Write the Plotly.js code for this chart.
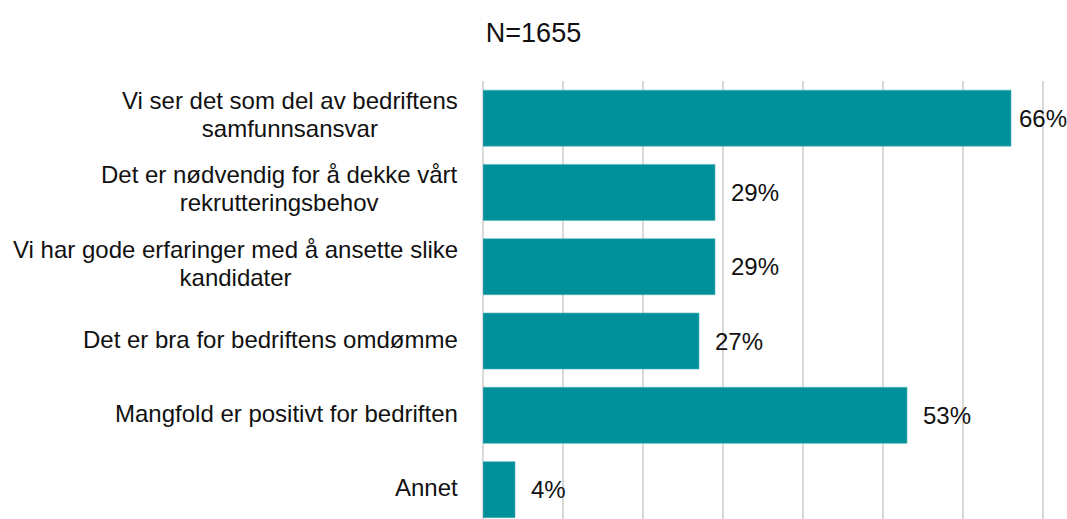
<!DOCTYPE html>
<html>
<head>
<meta charset="utf-8">
<script src="https://cdn.plot.ly/plotly-3.0.1.min.js"></script>
<style>html,body{margin:0;padding:0;background:#fff;}#chart{width:1067px;height:519px;}</style>
</head>
<body>
<div id="chart"></div>
<script>
const categories = [
  "Vi ser det som del av bedriftens<br>samfunnsansvar",
  "Det er nødvendig for å dekke vårt<br>rekrutteringsbehov",
  "Vi har gode erfaringer med å ansette slike<br>kandidater",
  "Det er bra for bedriftens omdømme",
  "Mangfold er positivt for bedriften",
  "Annet"
];
const values = [66, 29, 29, 27, 53, 4];
const valueLabels = ["66%", "29%", "29%", "27%", "53%", "4%"];
const titleText = "N=1655";

const FONT = "Liberation Sans, Arial, Helvetica, sans-serif";
const teal = "#00909a";
const W = 1067, H = 519;
const ML = 483, MR = 8, MT = 81;
const XMAX = 72;
const LINE_EM = 1.17;

const trace = {
  type: "bar",
  orientation: "h",
  x: values,
  y: categories,
  marker: { color: teal, line: { color: "#4fb3b9", width: 0.6 } },
  hoverinfo: "none",
  cliponaxis: false
};

const annotations = [];
const pxPerUnit = (W - ML - MR) / XMAX;

categories.forEach((c, i) => {
  const multi = c.indexOf("<br>") >= 0;
  annotations.push({
    xref: "paper", yref: "y", x: 0, y: c,
    text: c, showarrow: false,
    xanchor: "right", yanchor: "middle", align: "center",
    xshift: -23, yshift: 2,
    font: { family: FONT, size: 24, color: "#111" }
  });
});

values.forEach((v, i) => {
  const barEnd = ML + v * pxPerUnit;
  const labelW = valueLabels[i].length * 15.5;
  let shift = 14;
  if (barEnd + shift + labelW > W - 3) shift = 6;
  annotations.push({
    xref: "x", yref: "y", x: v, y: categories[i],
    text: valueLabels[i], showarrow: false,
    xanchor: "left", yanchor: "middle",
    xshift: shift,
    font: { family: FONT, size: 24, color: "#111" }
  });
});

const layout = {
  width: W, height: H,
  margin: { l: ML, r: MR, t: MT, b: 0, pad: 0 },
  paper_bgcolor: "#fff", plot_bgcolor: "#fff",
  showlegend: false,
  bargap: 0.246,
  title: {
    text: titleText,
    font: { family: FONT, size: 27, color: "#111" },
    xref: "container", x: 0.5, xanchor: "center",
    yref: "container", y: 1 - 33 / 519, yanchor: "middle"
  },
  xaxis: {
    range: [0, XMAX],
    dtick: 10, tick0: 0,
    showgrid: true, gridcolor: "#d9d9d9", gridwidth: 1.5,
    zeroline: true, zerolinecolor: "#d9d9d9", zerolinewidth: 1.5,
    showticklabels: false, ticks: "", showline: false,
    fixedrange: true
  },
  yaxis: {
    type: "category",
    range: [5.395, -0.5],
    showticklabels: false, ticks: "", showgrid: false,
    zeroline: false, showline: false,
    fixedrange: true
  },
  annotations: annotations,
  font: { family: FONT }
};

Plotly.newPlot("chart", [trace], layout, { staticPlot: true, displayModeBar: false })
  .then(gd => {
    // tighten multi-line label spacing toward the reference
    gd.querySelectorAll(".annotation-text tspan.line").forEach(t => {
      const dy = t.getAttribute("dy");
      if (dy && /em$/.test(dy)) {
        const n = parseFloat(dy) / 1.3;
        t.setAttribute("dy", (n * LINE_EM) + "em");
      }
    });
  });
</script>
</body>
</html>
